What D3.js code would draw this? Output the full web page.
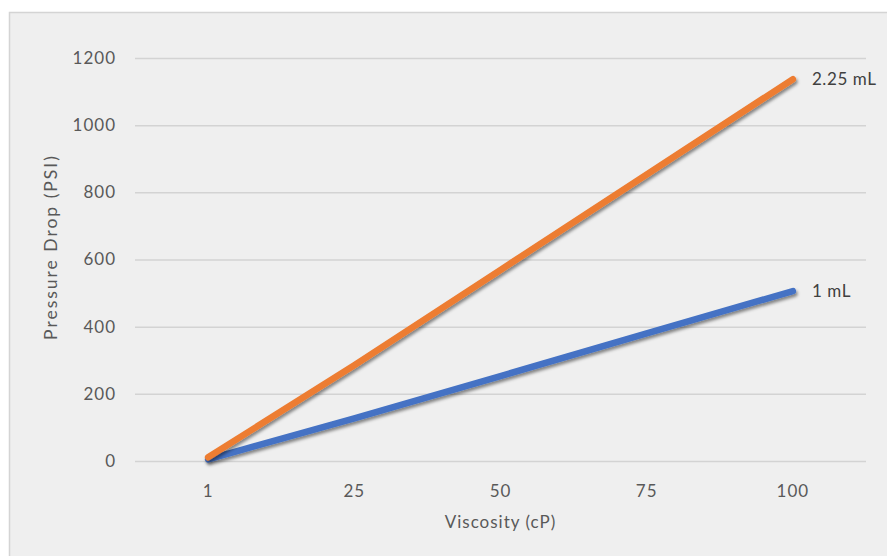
<!DOCTYPE html>
<html><head><meta charset="utf-8">
<script src="https://cdn.jsdelivr.net/npm/d3@7"></script>
<style>
html,body{margin:0;padding:0;background:#fff;}
svg{display:block;font-family:Lato, "Open Sans", sans-serif;}
</style></head>
<body>
<svg id="c" width="887" height="556"></svg>
<script>
const categories = ["1", "25", "50", "75", "100"];
const seriesNames = ["2.25 mL", "1 mL"];
const series225 = [11, 285, 569, 853, 1137];
const series1 = [5, 127, 253, 380, 506];
const yTicks = [0, 200, 400, 600, 800, 1000, 1200];
const colors = ["#ED7D31", "#4472C4"];

const svg = d3.select("#c");
const defs = svg.append("defs");
const f = defs.append("filter").attr("id","sh").attr("x","-10%").attr("y","-10%").attr("width","120%").attr("height","130%");
f.append("feDropShadow").attr("dx",1.5).attr("dy",2.5).attr("stdDeviation",1.6).attr("flood-color","#000").attr("flood-opacity",0.45);

svg.append("rect").attr("x",9.5).attr("y",12.5).attr("width",890).attr("height",560)
  .attr("fill","#efefef").attr("stroke","#d4d4d4").attr("stroke-width",1.5);

const m = {left:135, right:866, top:58, bottom:461};
const x = d3.scaleBand().domain(categories).range([m.left, m.right]);
const y = d3.scaleLinear().domain([0,1200]).range([m.bottom, m.top]);

const g = svg.append("g");
g.selectAll("line.grid").data(yTicks).join("line").attr("class","grid")
  .attr("x1",m.left).attr("x2",m.right)
  .attr("y1",d=>y(d)+0.5).attr("y2",d=>y(d)+0.5)
  .attr("stroke","#d3d3d3").attr("stroke-width",1.5);

const fs = "17px";
const yAxis = d3.axisLeft(y).tickValues(yTicks).tickSize(0).tickPadding(19).tickFormat(d3.format("d"));
const ya = svg.append("g").attr("transform",`translate(${m.left},0)`).call(yAxis);
ya.select(".domain").remove();
ya.selectAll("text").attr("fill","#595959").style("font-size",fs).style("letter-spacing","1px").style("font-family","Lato, sans-serif");

const xAxis = d3.axisBottom(x).tickSize(0).tickPadding(24);
const xa = svg.append("g").attr("transform",`translate(0,${m.bottom})`).call(xAxis);
xa.select(".domain").remove();
xa.selectAll("text").attr("fill","#595959").style("font-size",fs).style("letter-spacing","1px").style("font-family","Lato, sans-serif");

svg.append("text").attr("x",(m.left+m.right)/2).attr("y",528).attr("text-anchor","middle")
  .attr("fill","#595959").style("font-size",fs).style("letter-spacing","1px").text("Viscosity (cP)");
svg.append("text").attr("transform","translate(57,247) rotate(-90)").attr("text-anchor","middle")
  .attr("fill","#595959").style("font-size","17.5px").style("letter-spacing","2px").text("Pressure Drop (PSI)");

const line = d3.line().x((d,i)=>x(categories[i])+x.bandwidth()/2).y(d=>y(d));
const data = [series225, series1];
[1,0].forEach(k=>{
  svg.append("path").datum(data[k]).attr("d",line).attr("fill","none")
    .attr("stroke",colors[k]).attr("stroke-width",6.5).attr("stroke-linecap","round")
    .attr("filter","url(#sh)");
});
data.forEach((s,k)=>{
  const last = s.length-1;
  svg.append("text").attr("x",x(categories[last])+x.bandwidth()/2+19).attr("y",y(s[last])+6)
    .attr("fill","#404040").style("font-size",fs).style("letter-spacing","0.6px").text(seriesNames[k]);
});
</script>
</body></html>
